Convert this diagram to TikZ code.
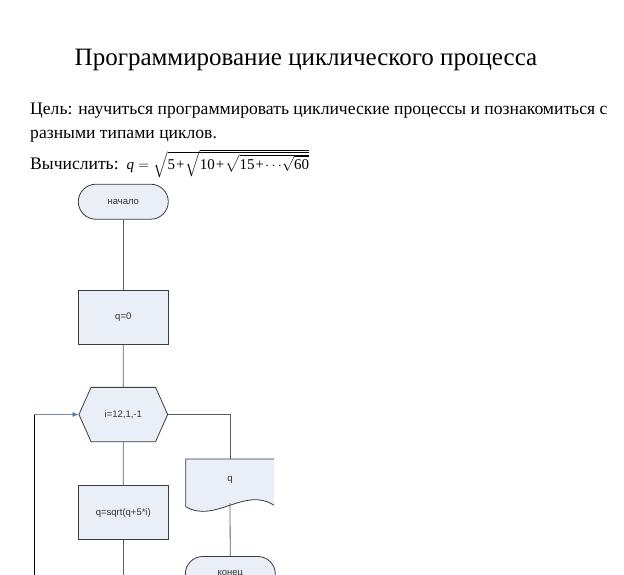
\documentclass[tikz,border=0pt]{standalone}
\usepackage{amsmath}
\usepackage{fontspec}
\setmainfont{Liberation Serif}
\newfontfamily\chartfont{Liberation Sans}
\usetikzlibrary{shapes.symbols,arrows.meta}

\definecolor{boxfill}{HTML}{E9EEF7}
\definecolor{boxline}{HTML}{3C3C3C}
\definecolor{flowline}{HTML}{5E5E5E}
\definecolor{backline}{HTML}{7D8CA0}
\definecolor{tipblue}{HTML}{4F7AAE}

\newcommand{\plusgap}{\kern1pt+\kern1pt}
% radical whose height is fixed by hand, so nested roots stay flat
\newcommand{\flatroot}[2]{\sqrt{\smash[t]{#2}\rule{0pt}{#1}}}

\tikzset{
  block/.style={draw=boxline, line width=0.8pt, fill=boxfill,
    font=\chartfont\fontsize{9.5}{11}\selectfont, text=black!80},
  terminal/.style={block, rectangle, rounded corners=17.5pt,
    minimum width=90pt, minimum height=35pt},
  process/.style={block, rectangle, minimum width=90pt, minimum height=54pt},
  loophead/.style={block, signal, signal to=west and east,
    signal pointer angle=132, minimum width=88.7pt, minimum height=54.3pt},
  flow/.style={draw=flowline, line width=0.8pt},
  textline/.style={anchor=base west, inner sep=0pt, font=\fontsize{17.6}{20}\selectfont},
}

\begin{document}
\begin{tikzpicture}[x=1pt,y=-1pt]
  \useasboundingbox (0,0) rectangle (624,574);
  \clip (0,0) rectangle (624,574);
  \fill[white] (0,0) rectangle (624,574);

  % heading and task
  \node[anchor=base, inner sep=0pt, font=\fontsize{25}{30}\selectfont] (title) at (306,65.7)
    {Программирование циклического процесса};
  \node[textline] (aim1) at (30,114)
    {Цель: научиться программировать циклические процессы и познакомиться с};
  \node[textline] (aim2) at (30,138)
    {разными типами циклов.};
  \node[textline] (task) at (30,169.5)
    {Вычислить:\hspace{8pt}{\fontsize{15}{17}\selectfont$\text{\itshape q} = \flatroot{15pt}{\text{5\plusgap}\flatroot{13.5pt}{\text{10\plusgap}\flatroot{12pt}{\text{15\plusgap}\!\cdots\!\flatroot{10.5pt}{\text{60}}}}}$}};

  % document shape for the output
  \fill[boxfill] (274,459) -- (185.7,459) -- (185.7,506.7)
    .. controls (215,524) and (245,486) .. (274,505.3) -- cycle;
  \draw[draw=boxline, line width=0.8pt] (274,459) -- (185.7,459) -- (185.7,506.7)
    .. controls (215,524) and (245,486) .. (274,505.3);

  % flowchart
  \node[terminal] (start) at (123.3,201.7) {начало};
  \node[process] (init) at (123.3,317) {q=0};
  \node[loophead] (cycle) at (123.3,414.5) {i=12,1,-1};
  \node[process] (body) at (123.3,512.7) {q=sqrt(q+5*i)};
  \node[font=\chartfont\fontsize{9.5}{11}\selectfont, text=black!80] (out) at (230,480) {q};
  \node[terminal] (stop) at (230.3,574) {конец};

  \coordinate (outtop) at (230,459);
  \coordinate (outbot) at (230,503);
  \coordinate (bodyend) at (123.3,580);
  \coordinate (retbot) at (34,580);
  \coordinate (retcorner) at (34,414.5);

  \draw[flow] (start) -- (init);
  \draw[flow] (init) -- (cycle);
  \draw[flow] (cycle) -- (body);
  \draw[flow] (body) -- (bodyend);
  \draw[flow] (cycle.east) -| (outtop);
  \draw[flow] (outbot) -- (stop);
  \draw[line width=0.8pt, black] (retbot) -- (retcorner);
  \draw[draw=backline, line width=0.8pt, -{Latex[length=6pt,width=5pt,color=tipblue]}] (retcorner) -- (cycle.west);
\end{tikzpicture}
\end{document}
